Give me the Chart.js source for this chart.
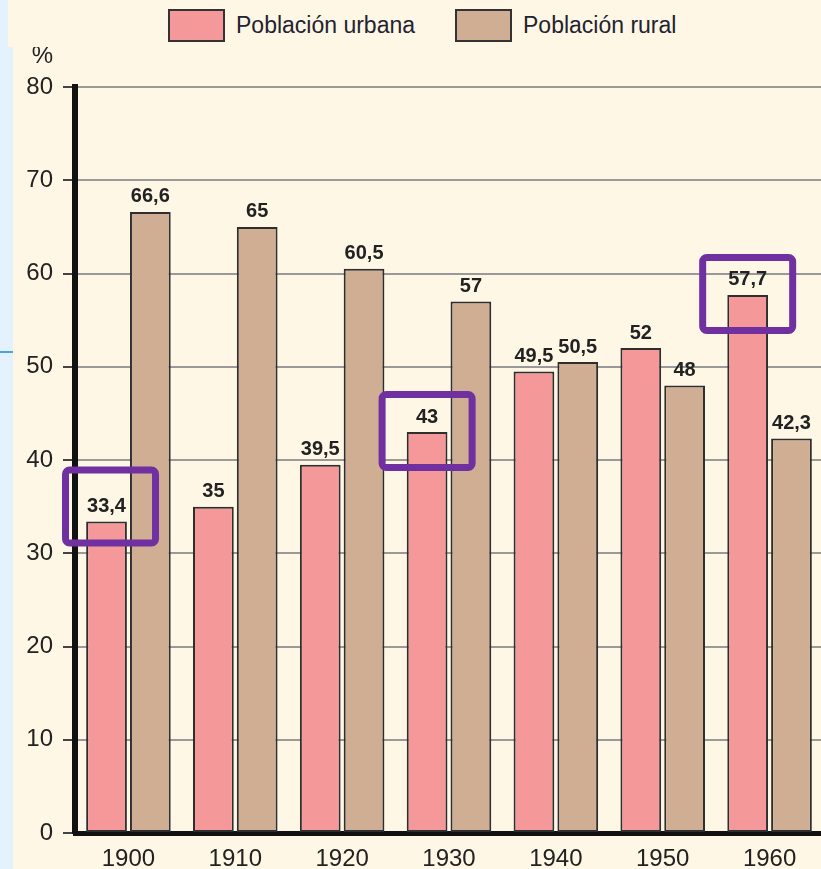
<!DOCTYPE html>
<html>
<head>
<meta charset="utf-8">
<script src="https://cdn.jsdelivr.net/npm/chart.js@4.4.1/dist/chart.umd.min.js"></script>
<style>
  html, body { margin: 0; padding: 0; overflow: hidden; background: #fef7e6; width: 821px; height: 869px; font-family: "Liberation Sans", Arial, sans-serif; }
  #wrap { position: absolute; left: 0; top: 0; width: 823px; height: 869px; }
  #strip { position: absolute; left: 0; top: 47px; width: 13px; height: 822px; background: #e3f2fc; z-index: 3; }
  #stripTop { position: absolute; left: 0; top: 0; width: 8px; height: 47px; background: #e3f2fc; z-index: 3; }
  #stripLine { position: absolute; left: 0; top: 351px; width: 13px; height: 2px; background: #49a6e0; z-index: 4; }
  #legend { position: absolute; left: 8px; top: 0; width: 813px; height: 47px; background: #fef7e6; z-index: 2; }
  .item { position: absolute; top: 9px; display: flex; align-items: center; }
  .box { width: 53px; height: 29px; border: 2px solid #333; margin-right: 11px; }
  .txt { font-size: 23px; color: #23232f; }
</style>
</head>
<body>
<div id="wrap"><canvas id="chart" width="823" height="869"></canvas></div>
<div id="legend"></div>
<div id="stripTop"></div>
<div id="strip"></div>
<div id="stripLine"></div>
<script>
const years = ['1900', '1910', '1920', '1930', '1940', '1950', '1960'];
const urbana = [33.4, 35, 39.5, 43, 49.5, 52, 57.7];
const rural = [66.6, 65, 60.5, 57, 50.5, 48, 42.3];
const seriesNames = ['Población urbana', 'Población rural'];
const seriesColors = ['#f4989a', '#cfae94'];
const highlighted = ['1900', '1930', '1960'];
const yMax = 80;
const yStep = 10;

// legend in html so it sits exactly like the print
const legend = document.getElementById('legend');
const legendLeft = [160, 447];
seriesNames.forEach((name, i) => {
  const item = document.createElement('div');
  item.className = 'item';
  item.style.left = legendLeft[i] + 'px';
  item.innerHTML = `<div class="box" style="background:${seriesColors[i]}"></div><span class="txt">${name}</span>`;
  legend.appendChild(item);
});

const fmt = v => String(v).replace('.', ',');

const valueLabels = {
  id: 'valueLabels',
  afterDatasetsDraw(chart) {
    const ctx = chart.ctx;
    ctx.save();
    ctx.font = 'bold 20px "Liberation Sans", Arial, sans-serif';
    ctx.fillStyle = '#222';
    ctx.textAlign = 'center';
    ctx.textBaseline = 'bottom';
    chart.data.datasets.forEach((ds, i) => {
      chart.getDatasetMeta(i).data.forEach((bar, j) => {
        ctx.fillText(fmt(ds.data[j]), bar.x, bar.y - 5);
      });
    });
    ctx.restore();
  }
};

const extras = {
  id: 'extras',
  afterDraw(chart) {
    const ctx = chart.ctx;
    ctx.save();
    // % unit above the y axis
    ctx.font = '24px "Liberation Sans", Arial, sans-serif';
    ctx.fillStyle = '#222';
    ctx.textAlign = 'right';
    ctx.fillText('%', 53, 63);
    // purple boxes round some labels
    const nudge = { '1900': [4, -14] };
    ctx.strokeStyle = '#7030a0';
    ctx.lineWidth = 7;
    highlighted.forEach(c => {
      const bar = chart.getDatasetMeta(0).data[years.indexOf(c)];
      const [dx, dy] = nudge[c] || [0, 0];
      const w = 90, h = 73;
      ctx.beginPath();
      ctx.roundRect(bar.x + dx - w / 2, bar.y + dy - h / 2 - 1, w, h, 4);
      ctx.stroke();
    });
    ctx.restore();
  }
};

new Chart(document.getElementById('chart'), {
  type: 'bar',
  data: {
    labels: years,
    datasets: [
      { label: seriesNames[0], data: urbana, backgroundColor: seriesColors[0] },
      { label: seriesNames[1], data: rural, backgroundColor: seriesColors[1] }
    ]
  },
  options: {
    responsive: false,
    animation: false,
    layout: { padding: { top: 87, right: 0, left: 0, bottom: 0 } },
    datasets: {
      bar: { borderColor: '#2e2e2e', borderWidth: 2, borderSkipped: false, categoryPercentage: 0.82, barPercentage: 0.93 }
    },
    plugins: { legend: { display: false }, tooltip: { enabled: false } },
    scales: {
      x: {
        grid: { display: false, drawTicks: false },
        border: { display: true, color: '#111', width: 5 },
        ticks: { font: { size: 24, family: '"Liberation Sans", Arial, sans-serif' }, color: '#222', padding: 12 },
        afterFit(s) { s.height = 36; }
      },
      y: {
        min: 0,
        max: yMax,
        ticks: { stepSize: yStep, font: { size: 24, family: '"Liberation Sans", Arial, sans-serif' }, color: '#222', padding: 10 },
        grid: { color: '#999', lineWidth: 2, tickLength: 12, tickColor: '#444', tickWidth: 2 },
        border: { color: '#111', width: 6 },
        afterFit(s) { s.width = 75; }
      }
    }
  },
  plugins: [valueLabels, extras]
});
</script>
</body>
</html>
